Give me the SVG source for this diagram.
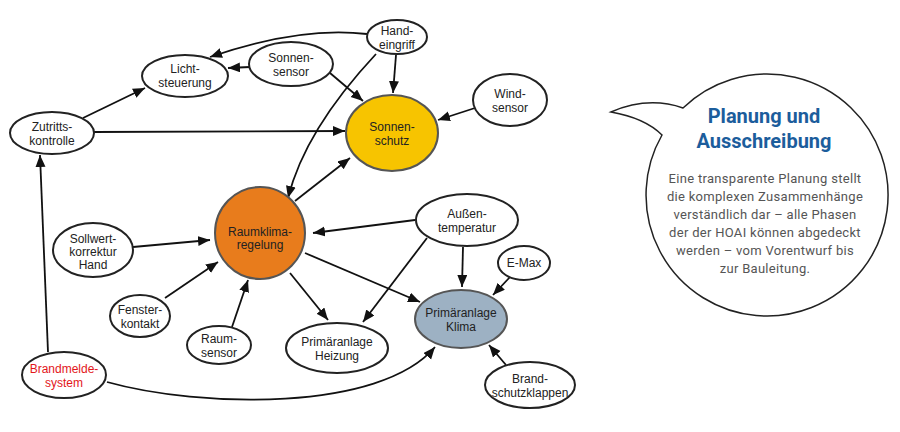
<svg xmlns="http://www.w3.org/2000/svg" width="900" height="432" viewBox="0 0 900 432">
<defs>
<marker id="ah" markerUnits="userSpaceOnUse" markerWidth="13" markerHeight="11" refX="12" refY="5" orient="auto">
<path d="M0,0 L12,5 L0,10 z" fill="#111"/>
</marker>
<style>
.n{fill:#fff;stroke:#222;stroke-width:2}
.c{stroke:#555;stroke-width:2}
.t{font-family:"Liberation Sans",Arial,sans-serif;font-size:12px;fill:#222;text-anchor:middle}
.e{fill:none;stroke:#111;stroke-width:1.8;marker-end:url(#ah)}
.bt{font-family:Roboto,"Liberation Sans",sans-serif;font-weight:bold;font-size:20px;fill:#1c5d9c;text-anchor:middle}
.bb{font-family:Roboto,"Liberation Sans",sans-serif;font-size:13px;fill:#555;text-anchor:middle;letter-spacing:0.3px}
</style>
</defs>
<rect width="900" height="432" fill="#fff"/>

<g id="connectors">
<path class="e" d="M83,118 L145,88"/>
<path class="e" d="M250,67 L228,68"/>
<path class="e" d="M367,34 Q300,26 210,57"/>
<path class="e" d="M396,55 L393,93"/>
<path class="e" d="M376,54 Q305,130 288,198"/>
<path class="e" d="M330,73 L363,101"/>
<path class="e" d="M475,108 L438,120"/>
<path class="e" d="M94,132 L345,131"/>
<path class="e" d="M295,201 L350,158"/>
<path class="e" d="M133,247 L210,240"/>
<path class="e" d="M165,298 L218,262"/>
<path class="e" d="M232,327 L248,280"/>
<path class="e" d="M48,352 L40,155"/>
<path class="e" d="M107,382 C200,408 380,412 435,347"/>
<path class="e" d="M415,220 L313,233"/>
<path class="e" d="M290,273 L328,320"/>
<path class="e" d="M427,238 L363,322"/>
<path class="e" d="M305,253 L420,302"/>
<path class="e" d="M463,247 L462,287"/>
<path class="e" d="M510,277 L493,295"/>
<path class="e" d="M506,365 L489,345"/>
</g>

<g id="lichtsteuerung"><ellipse class="n" cx="185" cy="76" rx="43" ry="21"/><text class="t" x="185" y="73">Licht-</text><text class="t" x="185" y="87">steuerung</text></g>
<g id="zutrittskontrolle"><ellipse class="n" cx="52" cy="133" rx="42" ry="21"/><text class="t" x="52" y="131">Zutritts-</text><text class="t" x="52" y="145">kontrolle</text></g>
<g id="sonnensensor"><ellipse class="n" cx="291" cy="64" rx="42" ry="22"/><text class="t" x="291" y="62">Sonnen-</text><text class="t" x="291" y="76">sensor</text></g>
<g id="handeingriff"><ellipse class="n" cx="397" cy="37" rx="30" ry="17"/><text class="t" x="397" y="35">Hand-</text><text class="t" x="397" y="49">eingriff</text></g>
<g id="sonnenschutz"><ellipse class="c" fill="#f7c400" cx="392" cy="133" rx="46" ry="38"/><text class="t" x="392" y="131">Sonnen-</text><text class="t" x="392" y="145">schutz</text></g>
<g id="windsensor"><ellipse class="n" cx="510" cy="100" rx="37" ry="26"/><text class="t" x="510" y="98">Wind-</text><text class="t" x="510" y="112">sensor</text></g>
<g id="raumklimaregelung"><ellipse class="c" fill="#e87c1c" cx="260" cy="233" rx="45" ry="46"/><text class="t" x="260" y="236">Raumklima-</text><text class="t" x="260" y="249">regelung</text></g>
<g id="sollwertkorrektur"><ellipse class="n" cx="93" cy="250" rx="40" ry="27"/><text class="t" x="93" y="243">Sollwert-</text><text class="t" x="93" y="256">korrektur</text><text class="t" x="93" y="269">Hand</text></g>
<g id="fensterkontakt"><ellipse class="n" cx="140" cy="316" rx="30" ry="21"/><text class="t" x="140" y="314">Fenster-</text><text class="t" x="140" y="328">kontakt</text></g>
<g id="raumsensor"><ellipse class="n" cx="219" cy="345" rx="32" ry="19"/><text class="t" x="219" y="343">Raum-</text><text class="t" x="219" y="357">sensor</text></g>
<g id="brandmeldesystem"><ellipse class="n" cx="64" cy="375" rx="42" ry="23"/><text class="t" x="64" y="373" style="fill:#e3161b">Brandmelde-</text><text class="t" x="64" y="387" style="fill:#e3161b">system</text></g>
<g id="aussentemperatur"><ellipse class="n" cx="467" cy="220" rx="51" ry="26"/><text class="t" x="467" y="218">Außen-</text><text class="t" x="467" y="232">temperatur</text></g>
<g id="emax"><ellipse class="n" cx="524" cy="263" rx="26" ry="17"/><text class="t" x="524" y="267">E-Max</text></g>
<g id="primaeranlageklima"><ellipse class="c" fill="#9db1c3" cx="461" cy="319" rx="46" ry="29"/><text class="t" x="461" y="317">Primäranlage</text><text class="t" x="461" y="331">Klima</text></g>
<g id="primaeranlageheizung"><ellipse class="n" cx="337" cy="348" rx="51" ry="25"/><text class="t" x="337" y="346">Primäranlage</text><text class="t" x="337" y="360">Heizung</text></g>
<g id="brandschutzklappen"><ellipse class="n" cx="530" cy="385" rx="45" ry="23"/><text class="t" x="530" y="383">Brand-</text><text class="t" x="530" y="397">schutzklappen</text></g>

<g id="bubble">
<path d="M683,108 Q648,96 611,112 Q645,118 662,135 A121,121 0 1 0 683,108 Z" fill="#fff" stroke="#222" stroke-width="1.5"/>
<text class="bt" x="764" y="123">Planung und</text>
<text class="bt" x="764" y="148">Ausschreibung</text>
<text class="bb" x="765" y="183">Eine transparente Planung stellt</text>
<text class="bb" x="765" y="201">die komplexen Zusammenhänge</text>
<text class="bb" x="765" y="219">verständlich dar – alle Phasen</text>
<text class="bb" x="765" y="237">der der HOAI können abgedeckt</text>
<text class="bb" x="765" y="255">werden – vom Vorentwurf bis</text>
<text class="bb" x="765" y="273">zur Bauleitung.</text>
</g>
</svg>
